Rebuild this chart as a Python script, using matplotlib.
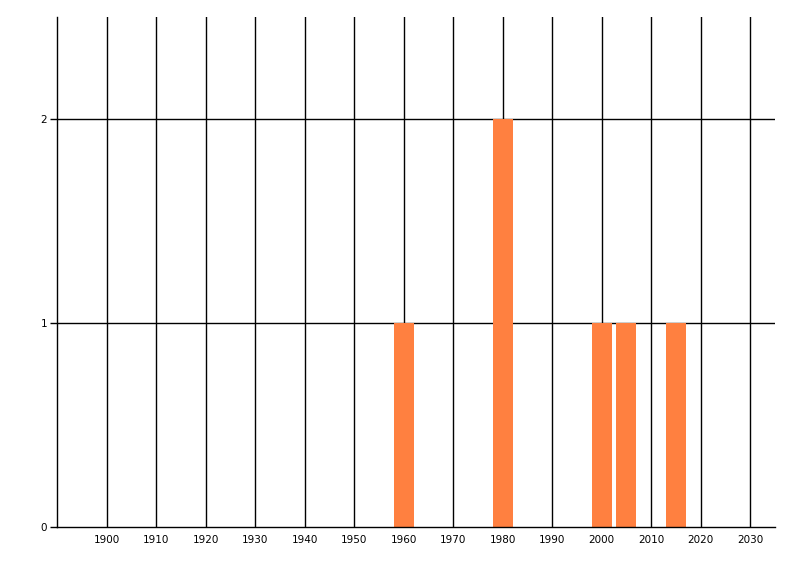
import matplotlib
matplotlib.use("Agg")
import matplotlib.pyplot as plt

# 연도별 개수
years = [1960, 1980, 2000, 2005, 2015]
counts = [1, 2, 1, 1, 1]
x_ticks = list(range(1900, 2031, 10))
y_ticks = [0, 1, 2]

fig = plt.figure(figsize=(8, 5.76), dpi=100)
ax = fig.add_axes([57/800, 49/576, 718/800, 510/576])

# 격자 (막대 뒤)
for t in x_ticks:
    ax.axvline(t, color='black', lw=1.0, zorder=1)
for t in y_ticks[1:]:
    ax.axhline(t, color='black', lw=1.0, zorder=1)

ax.bar(years, counts, width=4, color='#FF8040', zorder=2)

ax.set_xlim(1889.9, 2035.05)
ax.set_ylim(0, 2.5)
ax.set_xticks(x_ticks)
ax.set_yticks(y_ticks)
ax.tick_params(axis='x', length=0, pad=6, labelsize=7.5)
ax.tick_params(axis='y', length=5, width=1, pad=2, labelsize=7.5)

for s in ['top', 'right']:
    ax.spines[s].set_visible(False)
for s in ['left', 'bottom']:
    ax.spines[s].set_linewidth(1.0)

fig.savefig('out.png', dpi=100)
